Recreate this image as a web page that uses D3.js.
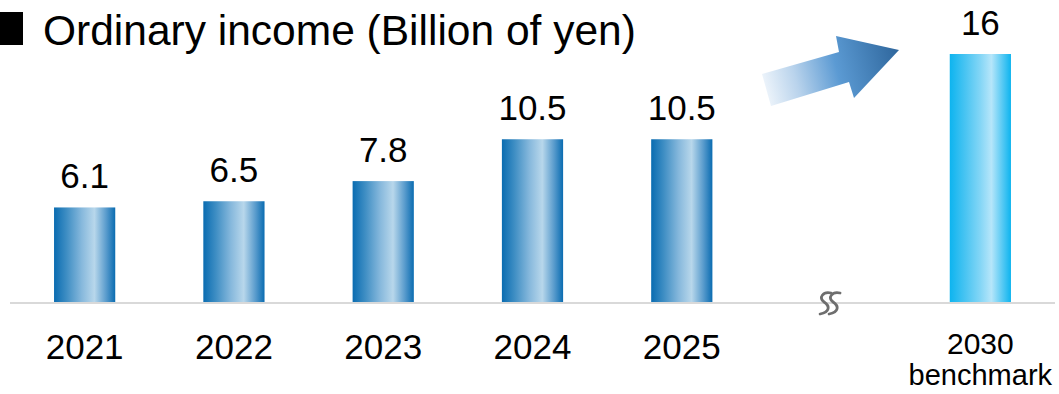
<!DOCTYPE html>
<html>
<head>
<meta charset="utf-8">
<script src="https://cdn.jsdelivr.net/npm/d3@7"></script>
<style>
  html, body { margin: 0; padding: 0; background: #ffffff; }
  svg { display: block; }
  text { font-family: "Liberation Sans", Arial, sans-serif; fill: #000; }
</style>
</head>
<body>
<svg id="chart" width="1059" height="394"></svg>
<script>
// Ordinary income, billions of yen
const years = ["2021", "2022", "2023", "2024", "2025", "gap", "2030"];
const values = [6.1, 6.5, 7.8, 10.5, 10.5, null, 16];
const valueLabels = ["6.1", "6.5", "7.8", "10.5", "10.5", null, "16"];
const subLabels = ["", "", "", "", "", "", "benchmark"];
const titleText = "Ordinary income (Billion of yen)";

const svg = d3.select("#chart");
const baseY = 302;

const x = d3.scaleBand()
  .domain(years)
  .range([10, 1055])
  .paddingInner(0.59)
  .paddingOuter(0.295);

const y = d3.scaleLinear()
  .domain([0, 16])
  .range([baseY, baseY - 16 * 15.5]);

const defs = svg.append("defs");

// cylinder-like shading for the actual-result bars
const gActual = defs.append("linearGradient").attr("id", "barActual")
  .attr("x1", "0%").attr("x2", "100%").attr("y1", "0%").attr("y2", "0%");
[[0, "#0a6cb1"], [0.2, "#3d8dc3"], [0.45, "#86b8dc"], [0.66, "#b8d7eb"], [0.85, "#5a9ccd"], [1, "#0a6cb1"]]
  .forEach(([o, c]) => gActual.append("stop").attr("offset", o).attr("stop-color", c));

// lighter cyan shading for the target bar
const gTarget = defs.append("linearGradient").attr("id", "barTarget")
  .attr("x1", "0%").attr("x2", "100%").attr("y1", "0%").attr("y2", "0%");
[[0, "#0db4ef"], [0.25, "#48c4f2"], [0.5, "#84d6f6"], [0.68, "#b6e6fa"], [0.85, "#5ccbf4"], [1, "#0db4ef"]]
  .forEach(([o, c]) => gTarget.append("stop").attr("offset", o).attr("stop-color", c));

// arrow fade from pale to deep blue
const gArrow = defs.append("linearGradient").attr("id", "arrowFill")
  .attr("gradientUnits", "userSpaceOnUse")
  .attr("x1", 762).attr("y1", 90).attr("x2", 899).attr("y2", 55);
[[0, "#f2f7fc"], [0.25, "#b9d3ec"], [0.55, "#5b9ad3"], [1, "#2f679d"]]
  .forEach(([o, c]) => gArrow.append("stop").attr("offset", o).attr("stop-color", c));

// title
svg.append("rect").attr("x", 0).attr("y", 12).attr("width", 23).attr("height", 33).attr("fill", "#000");
svg.append("text").attr("x", 43).attr("y", 45)
  .attr("font-size", 42.5).text(titleText);

// baseline
svg.append("line")
  .attr("x1", 10).attr("x2", 1055)
  .attr("y1", baseY + 1).attr("y2", baseY + 1)
  .attr("stroke", "#d9d9d9").attr("stroke-width", 2);

const data = years.map((yr, i) => ({ yr, v: values[i], label: valueLabels[i], sub: subLabels[i] }))
  .filter(d => d.v !== null);

// bars
svg.selectAll("rect.bar").data(data).join("rect")
  .attr("class", "bar")
  .attr("x", d => x(d.yr))
  .attr("width", x.bandwidth())
  .attr("y", d => y(d.v))
  .attr("height", d => y(0) - y(d.v))
  .attr("fill", d => d.yr === "2030" ? "url(#barTarget)" : "url(#barActual)");

// value labels
svg.selectAll("text.val").data(data).join("text")
  .attr("class", "val")
  .attr("x", d => x(d.yr) + x.bandwidth() / 2)
  .attr("y", d => y(d.v) - 19)
  .attr("text-anchor", "middle")
  .attr("font-size", 35)
  .text(d => d.label);

// category labels
svg.selectAll("text.cat").data(data).join("text")
  .attr("class", "cat")
  .attr("x", d => x(d.yr) + x.bandwidth() / 2)
  .attr("y", d => d.sub ? 354 : 359)
  .attr("text-anchor", "middle")
  .attr("font-size", d => d.sub ? 30 : 35)
  .text(d => d.yr);

svg.selectAll("text.sub").data(data.filter(d => d.sub)).join("text")
  .attr("class", "sub")
  .attr("x", d => x(d.yr) + x.bandwidth() / 2)
  .attr("y", 385)
  .attr("text-anchor", "middle")
  .attr("font-size", 29)
  .text(d => d.sub);

// axis break marks in the gap slot
const gx = x("gap") + x.bandwidth() / 2;
const sPath = "M5,-10 C-3,-12 -8,-5 -2,-1 C4,3 4,9 -6,11";
[-5, 4].forEach(dx => {
  svg.append("path")
    .attr("d", sPath)
    .attr("transform", `translate(${gx + dx},${baseY + 1})`)
    .attr("fill", "none")
    .attr("stroke", "#6e6e6e")
    .attr("stroke-width", 2.8)
    .attr("stroke-linecap", "round");
});

// growth arrow
svg.append("polygon")
  .attr("points", [[762, 74], [839, 52], [836, 36], [899, 50], [854, 98], [849, 82], [771, 106]].map(p => p.join(",")).join(" "))
  .attr("fill", "url(#arrowFill)");
</script>
</body>
</html>
